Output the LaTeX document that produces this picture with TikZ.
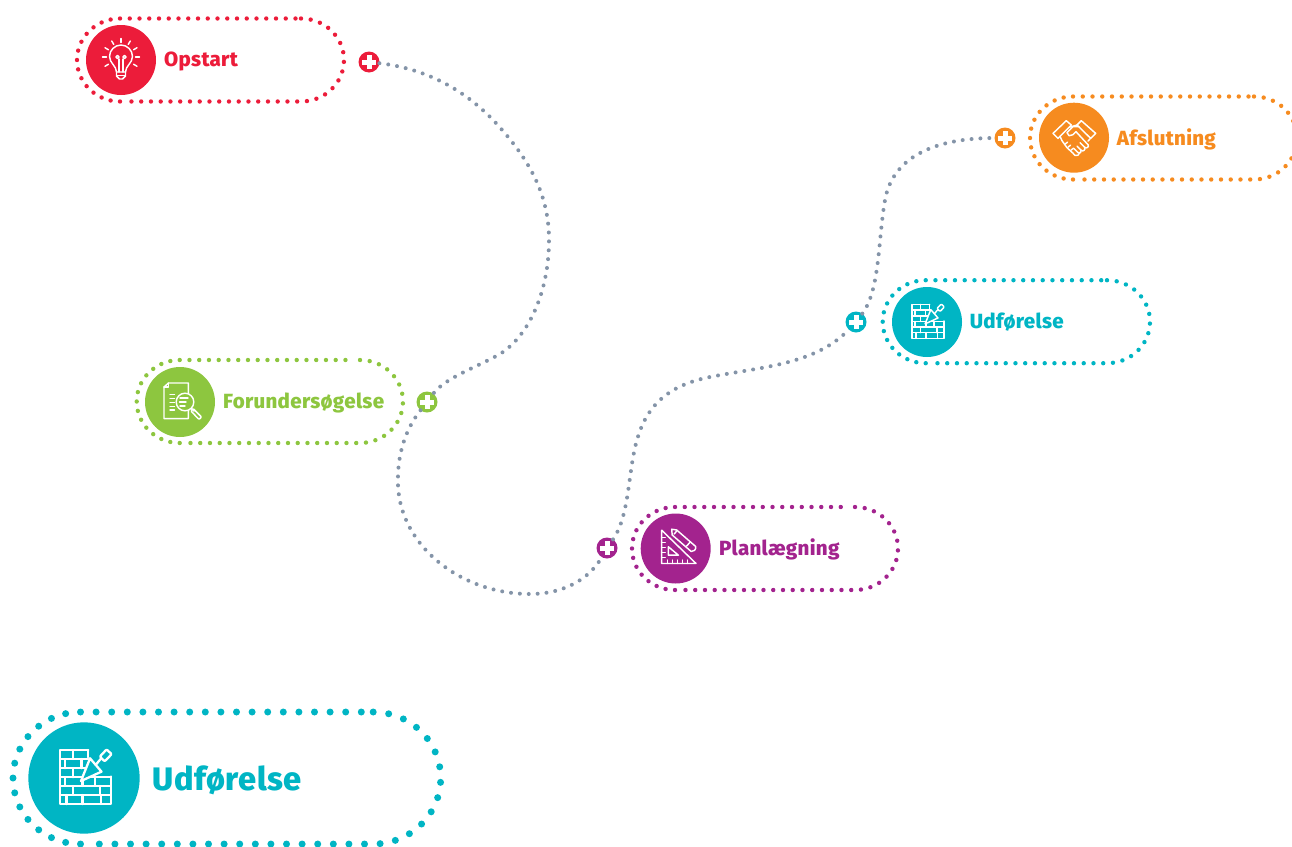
\documentclass[tikz,border=0pt]{standalone}
\usepackage{fontspec}
\setmainfont{Fira Sans}[BoldFont={Fira Sans ExtraBold},BoldFeatures={LetterSpace=1.5}]
\definecolor{cred}{HTML}{EC1C3A}
\definecolor{cgreen}{HTML}{8DC63F}
\definecolor{cpurple}{HTML}{A3238E}
\definecolor{cteal}{HTML}{00B5C4}
\definecolor{corange}{HTML}{F68B1F}
\definecolor{cgrey}{HTML}{8494A8}
\newcommand\pillring[7]{% L R cy r colour lw spacing
  \pgfmathsetmacro\xl{#1+#4+1.5}\pgfmathsetmacro\xr{#2-#4-1.5}%
  \pgfmathsetmacro\yt{#3-#4}\pgfmathsetmacro\yb{#3+#4}\pgfmathsetmacro\rr{#4+1.5}%
  \pgfmathsetmacro\arcsp{3.1416*(#4+0.75)/14}%
  \begin{scope}[#5,line cap=round,line width=#6pt]
  \draw[dash pattern=on 0pt off #7pt] (\xl,\yt) -- (\xr-#7*0.5,\yt);
  \draw[dash pattern=on 0pt off #7pt] (\xr,\yt) arc[start angle=-90,delta angle=180,x radius=\rr,y radius=#4] -- (\xl+#7*0.4,\yb);
  \draw[dash pattern=on 0pt off \arcsp pt] (\xl,\yb) arc[start angle=90,delta angle=176,x radius=\rr,y radius=#4];
  \end{scope}}
\tikzset{
  x=1pt,y=-1pt,
  disc/.style={circle,inner sep=0pt,minimum size=#1},
  plusmark/.style={circle,inner sep=0pt,outer sep=0pt,minimum size=21pt,fill=#1,
    path picture={\draw[white,line width=5pt]
      ([xshift=-7pt]path picture bounding box.center)--([xshift=7pt]path picture bounding box.center)
      ([yshift=-7pt]path picture bounding box.center)--([yshift=7pt]path picture bounding box.center);}},
  label text/.style={anchor=base west,inner sep=0pt,font=\fontsize{#1}{#1}\selectfont\bfseries},
  conn/.style={cgrey,line cap=round,line width=4pt,dash pattern=on 0pt off 8.9pt},
  ico/.style={white,line join=round,line cap=round},
  small icon/.style={line width=1.45pt},
  big icon/.style={scale=1.59,line width=2.3pt},
  bulbicon/.pic={
    \begin{scope}[ico]
    \foreach \a in {0,180,-90,-30,-60,-120,-150,30,150}
      \draw ({14.5*cos(\a)},{-3+14.5*sin(\a)}) -- ({18.5*cos(\a)},{-3+18.5*sin(\a)});
    \draw (-4.5,12) .. controls (-4.5,6) and (-11.5,3) .. (-11.5,-3.5)
       .. controls (-11.5,-10) and (-6,-15) .. (0,-15)
       .. controls (6,-15) and (11.5,-10) .. (11.5,-3.5)
       .. controls (11.5,3) and (4.5,6) .. (4.5,12) -- cycle;
    \draw (-4.5,12) -- (-4.5,16) -- (-1.5,19) -- (1.5,19) -- (4.5,16) -- (4.5,12);
    \draw (-2,12) -- (-2,-1) (2,12) -- (2,-1);
    \draw (-3.5,-3) circle (1.6) (3.5,-3) circle (1.6);
    \draw (-4,15.5) -- (4,15.5);
    \end{scope}},
  docicon/.pic={
    \begin{scope}[ico]
    \draw (-11.5,-19) -- (8.3,-19) -- (8.3,16.7) -- (-16,16.7) -- (-16,-15) -- cycle;
    \draw (-16,-15) -- (-11.5,-15) -- (-11.5,-19);
    \foreach \y in {-7.5,-3.5,0.5,4.5,8} \draw (-10,\y) -- (-5.5,\y);
    \draw[fill=cgreen] (5,0) circle (8.8);
    \draw (0,-4) -- (8,-4) (-.5,0) -- (6,0) (0,4) -- (5,4);
    \draw (11.5,6.5) -- (14,9);
    \draw[rounded corners=1pt] (13,6.5) -- (21.5,15) -- (19,17.5) -- (11,9) -- cycle;
    \end{scope}},
  rulericon/.pic={
    \begin{scope}[ico]
    \draw (-14,-18.3) -- (-14,15) -- (20.3,15) -- cycle;
    \draw (-7.3,-1.7) -- (-7.3,6.7) -- (2.7,6.7) -- cycle;
    \foreach \y in {-11,-6,-1,4,9} \draw (-14,\y) -- (-10.5,\y);
    \foreach \x in {-8,-3,2,7,12} \draw (\x,15) -- (\x,11.5);
    \draw[fill=cpurple] (-4,-19.3) -- (1,-18.5) -- (20,-2) .. controls (20.5,1) and (18,3.5) .. (15.5,3) -- (-3.5,-13.5) -- cycle;
    \draw (-1.5,-14.5) -- (1,-17.5) (14.5,-6.5) -- (11,-2.5);
    \end{scope}},
  wallicon/.pic={
    \begin{scope}[ico]
    \draw (2.7,-17.6) -- (-15,-17.6) -- (-15,16.4) -- (16.8,16.4) -- (16.8,-1);
    \draw (2.7,-17.6) -- (2.7,-13);
    \foreach \y in {-11.9,-6.2} \draw (-15,\y) -- (2.7,\y);
    \draw (-15,-.5) -- (16.8,-.5) (-15,5) -- (16.8,5) (-15,10.7) -- (16.8,10.7);
    \foreach \x/\y/\h in {-6.7/-17.6/5.7,-12/-11.9/5.7,-1.5/-11.9/5.7,-6.7/-6.2/5.7,-12/-.5/5.5,-1/-.5/5.5,-6.7/5/5.7,10/5/5.7,-11/10.7/5.7,-1/10.7/5.7,10.5/10.7/5.7,7/-.5/5.5}
      \draw (\x,\y) -- (\x,\y+\h);
    \draw[fill=cteal] (3.8,-12.4) -- (11,-4) -- (-1.9,1.9) -- cycle;
    \draw[fill=cteal] (7.3,-8.2) -- (10.5,-12);
    \draw[fill=cteal,rounded corners=1pt] (10,-13.5) -- (14.2,-18) -- (17.4,-15) -- (13,-10.5) -- cycle;
    \end{scope}},
  handsicon/.pic={
    \begin{scope}[ico]
    \draw (-21,-4.3) -- (-7.7,-17) -- (-2.7,-12.7) -- (-16,.7) -- cycle;
    \draw (21.7,-4.3) -- (7.3,-17) -- (3,-12.7) -- (16.7,.7) -- cycle;
    \draw (-4.5,-10.5) -- (3,-12.7);
    \draw (5,-11) -- (-1,-11) -- (-7,-5) -- (-5,-2) -- (-1,-3) -- (2,-6) -- (14,7);
    \draw (-14,-1.5) -- (-12,3) -- (-7,10) -- (-1,15.5) -- (1,17.8) -- (4,17.5) -- (6,14.5);
    \draw (14,7) .. controls (15.5,9) and (12.5,11.5) .. (10.5,9.5) -- (6,5);
    \draw (10.5,9.5) .. controls (12,12) and (9,14.5) .. (7,12.5) -- (3,8.5);
    \draw (7,12.5) .. controls (8,15) and (6,16) .. (4,15) -- (0,11);
    \draw (16.5,.5) -- (14,3.5);
    \draw (-9,6.5) -- (-6.5,4.5) (-6,9.5) -- (-3.5,7.5) (-3,12.5) -- (-.5,10.5);
    \end{scope}}
}
\begin{document}
\begin{tikzpicture}
\useasboundingbox (0,0) rectangle (1292,846);
% plus marks
\node[plusmark=cred] (pa) at (369,62) {};
\node[plusmark=cgreen] (pb) at (427,402) {};
\node[plusmark=cpurple] (pc) at (607,548) {};
\node[plusmark=cteal] (pd) at (856,322) {};
\node[plusmark=corange] (pe) at (1005,138) {};
% connectors
\draw[conn] (pa) .. controls (420,68) and (460,85) .. (495,122)
   .. controls (530,160) and (549,195) .. (549,240)
   .. controls (549,290) and (530,335) .. (500,354)
   .. controls (475,368) and (445,378) .. (pb);
\draw[conn] (pb) .. controls (405,430) and (397,455) .. (398,485)
   .. controls (400,545) and (460,594) .. (530,594)
   .. controls (565,594) and (590,578) .. (pc);
\draw[conn] (pc) .. controls (630,515) and (628,470) .. (637,440)
   .. controls (648,400) and (675,384) .. (710,377)
   .. controls (760,367) and (815,365) .. (pd);
\draw[conn] (pd) .. controls (880,290) and (878,240) .. (885,200)
   .. controls (892,160) and (930,138) .. (pe);
% pills
\pillring{77}{344}{60}{41.5}{cred}{4.4}{9.75}
\node[disc=70pt,fill=cred] (opstart) at (121,60) {};
\pic[small icon] at (121,60) {bulbicon};
\node[label text=20.5,text=cred] (opstarttxt) at (164,66.7) {Opstart};
\pillring{136.7}{403}{401.5}{41.5}{cgreen}{4.4}{9.75}
\node[disc=70pt,fill=cgreen] (forund) at (180,402) {};
\pic[small icon] at (180,402) {docicon};
\node[label text=20.5,text=cgreen] (forundtxt) at (223,408.5) {Forundersøgelse};
\pillring{632}{898}{548.5}{41.5}{cpurple}{4.4}{9.75}
\node[disc=70pt,fill=cpurple] (plan) at (675.7,548.5) {};
\pic[small icon] at (675.7,548.5) {rulericon};
\node[label text=20.5,text=cpurple] (plantxt) at (719,555) {Planlægning};
\pillring{882.7}{1150}{321.7}{41.5}{cteal}{4.4}{9.75}
\node[disc=70pt,fill=cteal] (udf) at (927,322) {};
\pic[small icon] at (927,322) {wallicon};
\node[label text=20.5,text=cteal] (udftxt) at (969.7,328.5) {Udførelse};
\pillring{1030}{1297}{138}{41.5}{corange}{4.4}{9.75}
\node[disc=70pt,fill=corange] (afs) at (1074,137.7) {};
\pic[small icon] at (1074,137.7) {handsicon};
\node[label text=20.5,text=corange] (afstxt) at (1116.7,145) {Afslutning};
\pillring{13}{440.7}{778}{66}{cteal}{7}{15.6}
\node[disc=111.4pt,fill=cteal] (big) at (84,778) {};
\pic[big icon] at (84,778) {wallicon};
\node[label text=32.5,text=cteal] (bigtxt) at (152.7,790) {Udførelse};
\end{tikzpicture}
\end{document}
